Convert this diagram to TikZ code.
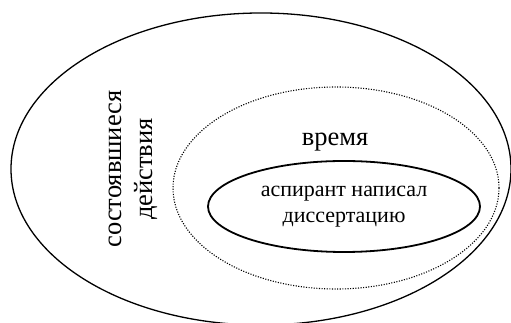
\documentclass[tikz,border=0pt]{standalone}
\usepackage{fontspec}
\setmainfont{Liberation Serif}
\usetikzlibrary{shapes.geometric}

\begin{document}
\begin{tikzpicture}[x=1pt,y=1pt,
  oval/.style={ellipse,draw,inner sep=0pt},
  big/.style={font=\fontsize{26.5}{31}\selectfont},
  small/.style={font=\fontsize{22}{26}\selectfont}]
  \useasboundingbox (0,0) rectangle (511,323);

  \node[oval,line width=1.3pt,minimum width=500pt,minimum height=312pt] (acts) at (261,154) {};
  \node[oval,line width=1.1pt,dash pattern=on 1.1pt off 1.5pt,
    minimum width=326pt,minimum height=202pt] (time) at (336,135) {};
  \node[oval,line width=1.8pt,minimum width=272pt,minimum height=91pt,
    small,align=center] (thesis) at (344,116.5) {аспирант написал\\диссертацию};

  \node[big] (timelbl) at (335,181) {время};
  \node[big,rotate=90,align=center] (actslbl) at (133,154) {состоявшиеся\\действия};

\end{tikzpicture}
\end{document}
